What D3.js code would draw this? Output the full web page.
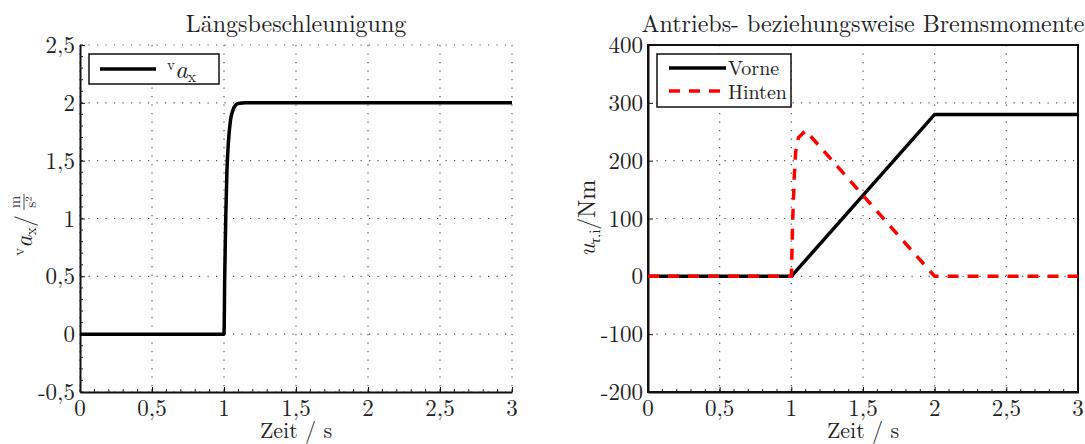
<!DOCTYPE html>
<html>
<head>
<meta charset="utf-8">
<script src="https://cdn.jsdelivr.net/npm/d3@7"></script>
<style>
body { margin: 0; background: #fff; }
</style>
</head>
<body>
<svg></svg>
<script>
// Längsbeschleunigung
const timeAx = [0, 1, 1.005, 1.012, 1.02, 1.03, 1.045, 1.06, 1.08, 1.1, 1.15, 3]
const valAx = [0, 0, 0.5, 1.0, 1.4, 1.65, 1.85, 1.93, 1.98, 1.995, 2, 2]

// Momente
const timeVorne = [0, 1, 2, 3]
const valVorne = [0, 0, 280, 280]
const timeHinten = [0, 1, 1.01, 1.02, 1.03, 1.05, 1.1, 2, 3]
const valHinten = [0, 0, 100, 170, 215, 240, 252, 0, 0]

const xTicks = [0, 0.5, 1, 1.5, 2, 2.5, 3]
const yTicksLeft = [-0.5, 0, 0.5, 1, 1.5, 2, 2.5]
const yTicksRight = [-200, -100, 0, 100, 200, 300, 400]

const fmt = d => String(d).replace(".", ",")
const fontCM = "'Latin Modern Roman', 'Liberation Serif', serif"

const svg = d3.select("svg")
	.attr("width", 1085)
	.attr("height", 444)

const plotTop = 45, plotBottom = 392

function panel(x0, x1, yDomain, yTicks, fullBox) {
	const g = svg.append("g")
	const x = d3.scaleLinear().domain([0, 3]).range([x0, x1])
	const y = d3.scaleLinear().domain(yDomain).range([plotBottom, plotTop])

	// grid
	g.selectAll("line.gx")
		.data(xTicks)
		.enter()
		.append("line")
		.attr("x1", d => x(d)).attr("x2", d => x(d))
		.attr("y1", plotTop).attr("y2", plotBottom)
		.attr("stroke", "#555")
		.attr("stroke-width", 1.2)
		.attr("stroke-dasharray", "1.2,7.3")
	g.selectAll("line.gy")
		.data(yTicks)
		.enter()
		.append("line")
		.attr("x1", x0).attr("x2", x1)
		.attr("y1", d => y(d)).attr("y2", d => y(d))
		.attr("stroke", "#555")
		.attr("stroke-width", 1.2)
		.attr("stroke-dasharray", "1.2,7.3")

	// axes
	const xAxis = d3.axisBottom(x).tickValues(xTicks).tickSizeInner(-5).tickSizeOuter(0).tickFormat("")
	const yAxis = d3.axisLeft(y).tickValues(yTicks).tickSizeInner(-5).tickSizeOuter(0).tickFormat("")
	g.append("g").attr("transform", `translate(0,${plotBottom})`).call(xAxis)
	g.append("g").attr("transform", `translate(${x0},0)`).call(yAxis)

	// minor ticks
	const xMinor = d3.range(0, 3.0001, 0.1)
	g.selectAll("line.mx")
		.data(xMinor)
		.enter()
		.append("line")
		.attr("x1", d => x(d)).attr("x2", d => x(d))
		.attr("y1", plotBottom).attr("y2", plotBottom - 3)
		.attr("stroke", "#222")
	if (!fullBox) {
		const step = (yDomain[1] - yDomain[0]) / 30
		g.selectAll("line.my")
			.data(d3.range(yDomain[0], yDomain[1] + step / 2, step))
			.enter()
			.append("line")
			.attr("x1", x0).attr("x2", x0 + 3)
			.attr("y1", d => y(d)).attr("y2", d => y(d))
			.attr("stroke", "#222")
	}
	g.selectAll(".domain").attr("stroke", "#111").attr("stroke-width", 2)
	g.selectAll(".tick line").attr("stroke", "#111")

	if (fullBox) {
		g.append("rect")
			.attr("x", x0).attr("y", plotTop)
			.attr("width", x1 - x0).attr("height", plotBottom - plotTop)
			.attr("fill", "none")
			.attr("stroke", "#111")
			.attr("stroke-width", 2)
	}

	// tick labels
	g.selectAll("text.xt")
		.data(xTicks)
		.enter()
		.append("text")
		.attr("x", d => x(d))
		.attr("y", 416)
		.attr("text-anchor", "middle")
		.style("font-size", "23px")
		.text(fmt)
	g.selectAll("text.yt")
		.data(yTicks)
		.enter()
		.append("text")
		.attr("x", x0 - 5)
		.attr("y", d => y(d) + 8)
		.attr("text-anchor", "end")
		.style("font-size", "23px")
		.text(fmt)

	g.append("text")
		.attr("x", (x0 + x1) / 2)
		.attr("y", 438)
		.attr("text-anchor", "middle")
		.style("font-size", "22px")
		.text("Zeit  /  s")

	return { g, x, y }
}

// left panel
const L = panel(80, 512, [-0.5, 2.5], yTicksLeft, false)
svg.append("text")
	.attr("x", 296).attr("y", 32)
	.attr("text-anchor", "middle")
	.style("font-size", "24px")
	.text("Längsbeschleunigung")

const lineAx = d3.line()
	.x((d, i) => L.x(timeAx[i]))
	.y(d => L.y(d))
	.curve(d3.curveMonotoneX)
L.g.append("path")
	.datum(valAx)
	.attr("d", lineAx)
	.attr("fill", "none")
	.attr("stroke", "#000")
	.attr("stroke-width", 3.5)

// left legend
L.g.append("rect")
	.attr("x", 89).attr("y", 54).attr("width", 130).attr("height", 30)
	.attr("fill", "#fff").attr("stroke", "#111").attr("stroke-width", 1.5)
L.g.append("line")
	.attr("x1", 100).attr("x2", 156).attr("y1", 69).attr("y2", 69)
	.attr("stroke", "#000").attr("stroke-width", 3.5)
const legL = L.g.append("text").attr("x", 167).attr("y", 78).style("font-size", "25px")
legL.append("tspan").attr("dy", -8).style("font-size", "15px").text("v")
legL.append("tspan").attr("dy", 8).style("font-style", "italic").text("a")
legL.append("tspan").attr("dy", 4).style("font-size", "16px").text("x")

// left y label
const yl = svg.append("g").attr("transform", "translate(32,221) rotate(-90)")
const ylt = yl.append("text").attr("x", 6).attr("y", 0).attr("text-anchor", "end").style("font-size", "24px")
ylt.append("tspan").attr("dy", -8).style("font-size", "15px").text("v")
ylt.append("tspan").attr("dy", 8).style("font-style", "italic").text("a")
ylt.append("tspan").attr("dy", 4).style("font-size", "16px").text("x")
ylt.append("tspan").attr("dy", -4).text("/")
yl.append("text").attr("x", 19).attr("y", -12).attr("text-anchor", "middle").style("font-size", "15px").text("m")
yl.append("line").attr("x1", 11).attr("x2", 27).attr("y1", -8).attr("y2", -8).attr("stroke", "#222").attr("stroke-width", 0.8)
yl.append("text").attr("x", 19).attr("y", 4).attr("text-anchor", "middle").style("font-size", "15px").text("s²")

// right panel
const R = panel(648, 1078, [-200, 400], yTicksRight, true)
svg.append("text")
	.attr("x", 863).attr("y", 32)
	.attr("text-anchor", "middle")
	.style("font-size", "24px")
	.text("Antriebs- beziehungsweise Bremsmomente")

const lineVorne = d3.line()
	.x((d, i) => R.x(timeVorne[i]))
	.y(d => R.y(d))
R.g.append("path")
	.datum(valVorne)
	.attr("d", lineVorne)
	.attr("fill", "none")
	.attr("stroke", "#000")
	.attr("stroke-width", 3.5)

const lineHinten = d3.line()
	.x((d, i) => R.x(timeHinten[i]))
	.y(d => R.y(d))
R.g.append("path")
	.datum(valHinten)
	.attr("d", lineHinten)
	.attr("fill", "none")
	.attr("stroke", "#f00")
	.attr("stroke-width", 3.5)
	.attr("stroke-dasharray", "11,9")

// right legend
R.g.append("rect")
	.attr("x", 657).attr("y", 54).attr("width", 134).attr("height", 53)
	.attr("fill", "#fff").attr("stroke", "#111").attr("stroke-width", 1.5)
R.g.append("line")
	.attr("x1", 669).attr("x2", 726).attr("y1", 68).attr("y2", 68)
	.attr("stroke", "#000").attr("stroke-width", 3.5)
R.g.append("line")
	.attr("x1", 669).attr("x2", 726).attr("y1", 91).attr("y2", 91)
	.attr("stroke", "#f00").attr("stroke-width", 3.5).attr("stroke-dasharray", "11,9")
R.g.append("text").attr("x", 728).attr("y", 75).style("font-size", "20px").text("Vorne")
R.g.append("text").attr("x", 728).attr("y", 99).style("font-size", "20px").text("Hinten")

// right y label
const yr = svg.append("g").attr("transform", "translate(595,218) rotate(-90)")
const yrt = yr.append("text").attr("x", 0).attr("y", 0).attr("text-anchor", "middle").style("font-size", "24px")
yrt.append("tspan").style("font-style", "italic").text("u")
yrt.append("tspan").attr("dy", 5).style("font-size", "15px").style("font-style", "italic").text("τ")
yrt.append("tspan").style("font-size", "15px").text(",i")
yrt.append("tspan").attr("dy", -5).text("/Nm")

// LaTeX look for every text
svg.selectAll("text")
	.style("font-family", fontCM)
	.style("fill", "#222")
</script>
</body>
</html>
